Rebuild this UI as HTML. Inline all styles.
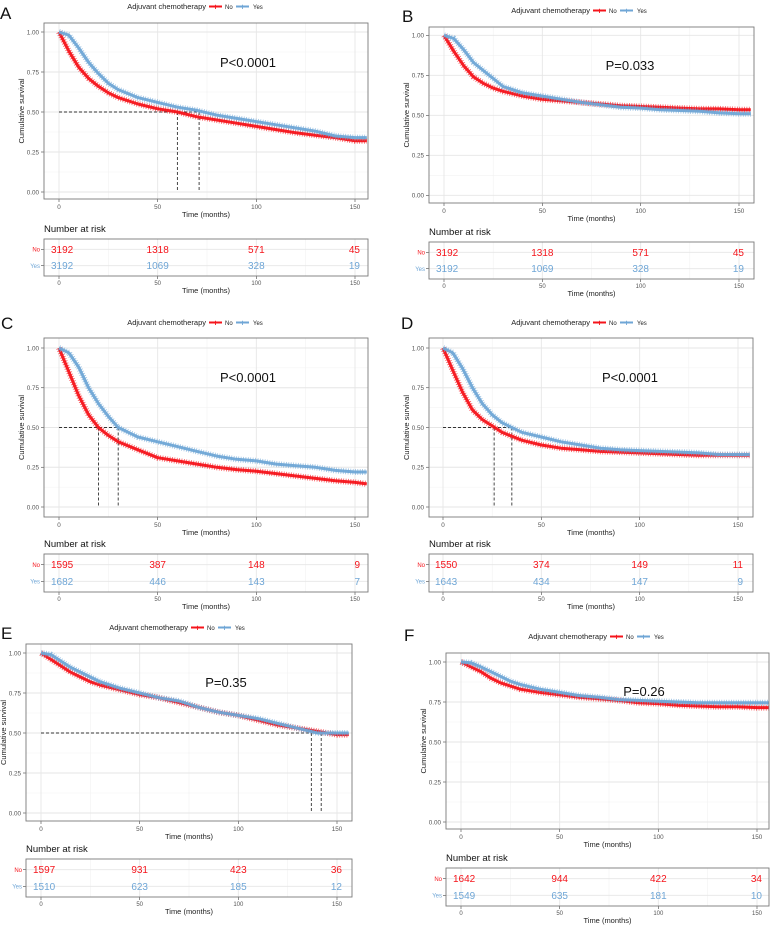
<!DOCTYPE html>
<html><head><meta charset="utf-8"><style>
html,body{margin:0;padding:0;background:#fff;}
svg{display:block;font-family:"Liberation Sans",sans-serif;}
</style></head><body>
<svg id="fig" width="774" height="925" viewBox="0 0 774 925"></svg>
<script>
const times=[0,5,10,15,20,25,30,40,50,60,70,80,90,100,110,120,130,140,150,156];
const xTicks=[0,50,100,150];
const yTicks=[0,0.25,0.5,0.75,1];
const yTickLabels=["0.00","0.25","0.50","0.75","1.00"];
const aNo=[1,0.88,0.78,0.71,0.66,0.62,0.59,0.55,0.52,0.50,0.47,0.45,0.43,0.41,0.39,0.37,0.355,0.34,0.32,0.32];
const aYes=[1,0.98,0.90,0.81,0.74,0.68,0.64,0.59,0.56,0.53,0.51,0.48,0.46,0.44,0.42,0.40,0.38,0.35,0.34,0.34];
const bNo=[1,0.90,0.81,0.74,0.70,0.67,0.65,0.62,0.60,0.59,0.58,0.57,0.56,0.555,0.55,0.545,0.54,0.54,0.535,0.535];
const bYes=[1,0.98,0.91,0.83,0.78,0.73,0.68,0.64,0.62,0.60,0.58,0.565,0.55,0.545,0.535,0.53,0.525,0.515,0.51,0.51];
const cNo=[1,0.85,0.70,0.58,0.50,0.45,0.41,0.36,0.31,0.29,0.27,0.25,0.235,0.225,0.21,0.195,0.18,0.165,0.155,0.145];
const cYes=[1,0.97,0.88,0.75,0.65,0.57,0.50,0.44,0.41,0.38,0.35,0.32,0.30,0.29,0.27,0.26,0.25,0.23,0.22,0.22];
const dNo=[1,0.86,0.72,0.61,0.55,0.51,0.47,0.42,0.39,0.37,0.36,0.35,0.345,0.34,0.335,0.33,0.325,0.325,0.325,0.325];
const dYes=[1,0.97,0.87,0.75,0.65,0.58,0.53,0.47,0.44,0.41,0.39,0.37,0.36,0.355,0.35,0.345,0.34,0.33,0.33,0.33];
const eNo=[1,0.96,0.92,0.88,0.85,0.82,0.80,0.77,0.74,0.72,0.69,0.66,0.63,0.61,0.58,0.55,0.53,0.51,0.49,0.49];
const eYes=[1,0.99,0.95,0.91,0.88,0.85,0.82,0.78,0.75,0.72,0.70,0.66,0.63,0.61,0.59,0.56,0.53,0.50,0.50,0.50];
const fNo=[1,0.97,0.94,0.90,0.87,0.85,0.83,0.81,0.795,0.78,0.77,0.76,0.745,0.74,0.73,0.725,0.72,0.72,0.715,0.715];
const fYes=[1,0.995,0.97,0.94,0.91,0.88,0.86,0.83,0.81,0.79,0.78,0.765,0.76,0.755,0.75,0.745,0.745,0.745,0.745,0.745];
const riskA=[[3192,1318,571,45],[3192,1069,328,19]];
const riskB=[[3192,1318,571,45],[3192,1069,328,19]];
const riskC=[[1595,387,148,9],[1682,446,143,7]];
const riskD=[[1550,374,149,11],[1643,434,147,9]];
const riskE=[[1597,931,423,36],[1510,623,185,12]];
const riskF=[[1642,944,422,34],[1549,635,181,10]];
const mediansA=[60,71], mediansB=[], mediansC=[20,30], mediansD=[26,35], mediansE=[137,142], mediansF=[];
const pvals=["P<0.0001","P=0.033","P<0.0001","P<0.0001","P=0.35","P=0.26"];

const RED="#f5141b", BLUE="#6fa6d6";
const NS="http://www.w3.org/2000/svg";
const svg=document.getElementById('fig');
function mk(tag,attrs,parent,text){const e=document.createElementNS(NS,tag);for(const k in attrs)e.setAttribute(k,attrs[k]);if(text!==undefined)e.textContent=text;(parent||svg).appendChild(e);return e;}

const panels=[
 {L:"A",no:aNo,yes:aYes,risk:riskA,med:mediansA,p:pvals[0],lx:0,ly:19,legX:206,legY:9,px0:44,px1:368,py0:23,py1:199,y1:32,y0:192,x0:59,x150:355,pX:248,pY:67,rb0:239,rb1:276},
 {L:"B",no:bNo,yes:bYes,risk:riskB,med:mediansB,p:pvals[1],lx:402,ly:22,legX:590,legY:13,px0:429,px1:754,py0:27,py1:203,y1:35.3,y0:195.3,x0:444,x150:739,pX:630,pY:70,rb0:242,rb1:279},
 {L:"C",no:cNo,yes:cYes,risk:riskC,med:mediansC,p:pvals[2],lx:1,ly:329,legX:206,legY:325,px0:44,px1:368,py0:338,py1:517,y1:348,y0:507,x0:59,x150:355,pX:248,pY:382,rb0:554,rb1:592},
 {L:"D",no:dNo,yes:dYes,risk:riskD,med:mediansD,p:pvals[3],lx:401,ly:329,legX:590,legY:325,px0:429,px1:753,py0:338,py1:517,y1:348,y0:507,x0:443,x150:738,pX:630,pY:382,rb0:554,rb1:592},
 {L:"E",no:eNo,yes:eYes,risk:riskE,med:mediansE,p:pvals[4],lx:1,ly:639,legX:188,legY:630,px0:26,px1:352,py0:644,py1:821,y1:653,y0:813,x0:41,x150:337,pX:226,pY:687,rb0:859,rb1:897},
 {L:"F",no:fNo,yes:fYes,risk:riskF,med:mediansF,p:pvals[5],lx:404,ly:641,legX:607,legY:639,px0:446,px1:769,py0:653,py1:829,y1:662,y0:822,x0:461,x150:757,pX:644,pY:696,rb0:868,rb1:906}
];

panels.forEach(c=>{
  const g=mk('g',{});
  
  
  const X=t=>c.x0+(c.x150-c.x0)*t/150;
  const Y=s=>c.y0+(c.y1-c.y0)*s;
  const lt=mk('text',{x:c.lx,y:c.ly,'font-size':17,fill:'#111'},g,c.L);
  
  
  const lg=mk('g',{},g);
  
  
  mk('text',{x:c.legX,y:c.legY,'font-size':7.5,fill:'#222','text-anchor':'end'},lg,'Adjuvant chemotherapy');
  mk('line',{x1:c.legX+3,x2:c.legX+16,y1:c.legY-2.5,y2:c.legY-2.5,stroke:RED,'stroke-width':2},lg);
  mk('text',{x:c.legX+9.5,y:c.legY+0.5,'font-size':8,fill:RED,'text-anchor':'middle','font-weight':'bold'},lg,'+');
  mk('text',{x:c.legX+19,y:c.legY,'font-size':6,fill:'#222'},lg,'No');
  mk('line',{x1:c.legX+30,x2:c.legX+43,y1:c.legY-2.5,y2:c.legY-2.5,stroke:BLUE,'stroke-width':2},lg);
  mk('text',{x:c.legX+36.5,y:c.legY+0.5,'font-size':8,fill:BLUE,'text-anchor':'middle','font-weight':'bold'},lg,'+');
  mk('text',{x:c.legX+47,y:c.legY,'font-size':6,fill:'#222'},lg,'Yes');
  mk('rect',{x:c.px0,y:c.py0,width:c.px1-c.px0,height:c.py1-c.py0,fill:'#fff'},g);
  for(let i=0;i<4;i++){const v=0.125+0.25*i;mk('line',{x1:c.px0,x2:c.px1,y1:Y(v),y2:Y(v),stroke:'#f2f2f2','stroke-width':0.6},g);}
  for(let t=25;t<160;t+=50){mk('line',{x1:X(t),x2:X(t),y1:c.py0,y2:c.py1,stroke:'#f2f2f2','stroke-width':0.6},g);}
  yTicks.forEach((v,i)=>{
    mk('line',{x1:c.px0,x2:c.px1,y1:Y(v),y2:Y(v),stroke:'#e6e6e6','stroke-width':0.9},g);
    mk('line',{x1:c.px0-3,x2:c.px0,y1:Y(v),y2:Y(v),stroke:'#444','stroke-width':0.6},g);
    const tl=mk('text',{x:c.px0-5,y:Y(v)+2.3,'font-size':6.3,fill:'#555','text-anchor':'end'},g,yTickLabels[i]);
    
    
  });
  xTicks.forEach(t=>{
    mk('line',{x1:X(t),x2:X(t),y1:c.py0,y2:c.py1,stroke:'#e6e6e6','stroke-width':0.9},g);
    mk('line',{x1:X(t),x2:X(t),y1:c.py1,y2:c.py1+3,stroke:'#444','stroke-width':0.6},g);
    const tl=mk('text',{x:X(t),y:c.py1+10,'font-size':6.3,fill:'#555','text-anchor':'middle'},g,String(t));
    
    
  });
  c.med.forEach(m=>{
    mk('line',{x1:X(m),x2:X(m),y1:Y(0.5),y2:Y(0),stroke:'#333','stroke-width':0.9,'stroke-dasharray':'3,2'},g);
  });
  if(c.med.length){mk('line',{x1:X(0),x2:X(Math.max(...c.med)),y1:Y(0.5),y2:Y(0.5),stroke:'#333','stroke-width':0.9,'stroke-dasharray':'3,2'},g);}
  [[c.no,RED,'curve-no'],[c.yes,BLUE,'curve-yes']].forEach(([arr,col,nm])=>{
    let d='';
    arr.forEach((s,i)=>{d+=(i?'L':'M')+X(times[i]).toFixed(1)+','+Y(s).toFixed(1);});
    const p=mk('path',{d:d,fill:'none',stroke:col,'stroke-width':3,'stroke-linejoin':'round','opacity':0.95},g);
    
    
    const p2=mk('path',{d:d,fill:'none',stroke:col,'stroke-width':6,'stroke-dasharray':'0.8,1.6','opacity':0.7},g);
    
    
  });
  mk('rect',{x:c.px0,y:c.py0,width:c.px1-c.px0,height:c.py1-c.py0,fill:'none',stroke:'#7a7a7a','stroke-width':0.9},g);
  const pt=mk('text',{x:c.pX,y:c.pY,'font-size':13,fill:'#111','text-anchor':'middle'},g,c.p);
  
  
  const yt=mk('text',{x:0,y:0,'font-size':7.5,fill:'#222','text-anchor':'middle',transform:`translate(${c.px0-20},${(c.py0+c.py1)/2}) rotate(-90)`},g,'Cumulative survival');
  
  
  const xt=mk('text',{x:(c.px0+c.px1)/2,y:c.py1+18,'font-size':7.5,fill:'#222','text-anchor':'middle'},g,'Time (months)');
  
  
  const rt=mk('g',{},g);
  
  
  mk('text',{x:c.px0,y:c.rb0-7,'font-size':9.5,fill:'#111'},rt,'Number at risk');
  mk('rect',{x:c.px0,y:c.rb0,width:c.px1-c.px0,height:c.rb1-c.rb0,fill:'#fff'},rt);
  for(let t=25;t<160;t+=50){mk('line',{x1:X(t),x2:X(t),y1:c.rb0,y2:c.rb1,stroke:'#f2f2f2','stroke-width':0.6},rt);}
  xTicks.forEach(t=>{
    mk('line',{x1:X(t),x2:X(t),y1:c.rb0,y2:c.rb1,stroke:'#e6e6e6','stroke-width':0.9},rt);
    mk('line',{x1:X(t),x2:X(t),y1:c.rb1,y2:c.rb1+3,stroke:'#444','stroke-width':0.6},rt);
    mk('text',{x:X(t),y:c.rb1+9,'font-size':6,fill:'#555','text-anchor':'middle'},rt,String(t));
  });
  const h=c.rb1-c.rb0;
  [[0,RED,'No'],[1,BLUE,'Yes']].forEach(([r,col,lab])=>{
    const yy=c.rb0+h*(r?0.72:0.28);
    mk('line',{x1:c.px0-3,x2:c.px0,y1:yy,y2:yy,stroke:'#444','stroke-width':0.6},rt);
    mk('text',{x:c.px0-4,y:yy+2.2,'font-size':6,fill:col,'text-anchor':'end'},rt,lab);
    mk('line',{x1:c.px0,x2:c.px1,y1:yy,y2:yy,stroke:'#e6e6e6','stroke-width':0.9},rt);
    c.risk[r].forEach((v,i)=>{
      const tx=mk('text',{x:X(xTicks[i]),y:yy+3.5,'font-size':10,fill:col,'text-anchor':i===0?'start':(i===3?'end':'middle')},rt,String(v));
      if(i===0)tx.setAttribute('x',X(0)-8);
      if(i===3)tx.setAttribute('x',X(150)+5);
      
      
    });
  });
  mk('rect',{x:c.px0,y:c.rb0,width:c.px1-c.px0,height:h,fill:'none',stroke:'#7a7a7a','stroke-width':0.9},rt);
  mk('text',{x:(c.px0+c.px1)/2,y:c.rb1+17,'font-size':7.5,fill:'#222','text-anchor':'middle'},rt,'Time (months)');
});
</script>
</body></html>
